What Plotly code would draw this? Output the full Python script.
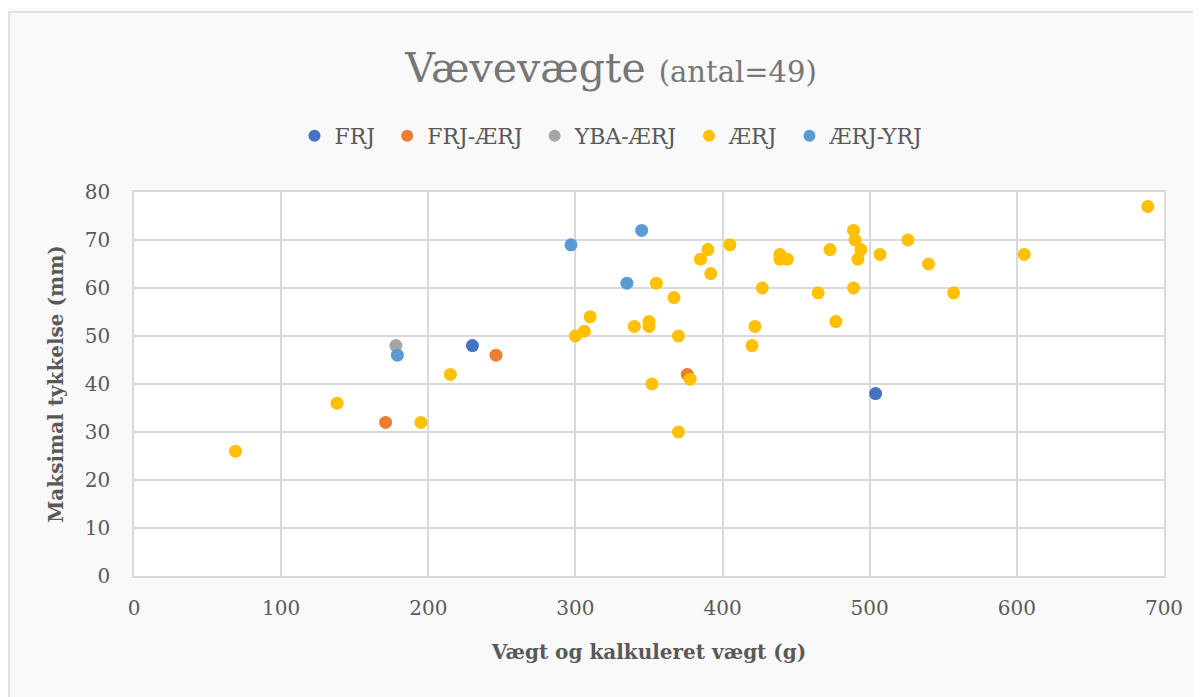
import plotly.graph_objects as go

# ---- data ----
series_names = ["FRJ", "FRJ-ÆRJ", "YBA-ÆRJ", "ÆRJ", "ÆRJ-YRJ"]
series_colors = ["#4472C4", "#ED7D31", "#A5A5A5", "#FFC000", "#5B9BD5"]

frj_x = [230, 504]
frj_y = [48, 38]

frj_aerj_x = [171, 246, 376]
frj_aerj_y = [32, 46, 42]

yba_aerj_x = [178]
yba_aerj_y = [48]

aerj_x = [69, 138, 195, 215, 300, 306, 310, 340, 350, 350, 352, 355, 367, 370, 370,
          378, 385, 390, 392, 405, 420, 422, 427, 439, 439, 444, 465, 473, 477, 489,
          490, 494, 492, 489, 507, 526, 540, 557, 605, 689]
aerj_y = [26, 36, 32, 42, 50, 51, 54, 52, 53, 52, 40, 61, 58, 50, 30,
          41, 66, 68, 63, 69, 48, 52, 60, 67, 66, 66, 59, 68, 53, 72,
          70, 68, 66, 60, 67, 70, 65, 59, 67, 77]

aerj_yrj_x = [179, 297, 335, 345]
aerj_yrj_y = [46, 69, 61, 72]

series_x = [frj_x, frj_aerj_x, yba_aerj_x, aerj_x, aerj_yrj_x]
series_y = [frj_y, frj_aerj_y, yba_aerj_y, aerj_y, aerj_yrj_y]

x_ticks = [0, 100, 200, 300, 400, 500, 600, 700]
y_ticks = [0, 10, 20, 30, 40, 50, 60, 70, 80]

title_main = "Vævevægte"
title_sub = "(antal=49)"
x_title = "Vægt og kalkuleret vægt (g)"
y_title = "Maksimal tykkelse (mm)"

FONT = "DejaVu Serif"
TXT = "#595959"
GRID = "#D9D9D9"
NB = "\u00a0"

fig = go.Figure()
for name, col, xs, ys in zip(series_names, series_colors, series_x, series_y):
    fig.add_trace(go.Scatter(
        x=xs, y=ys, mode="markers", name=name + NB,
        marker=dict(color=col, size=13, line=dict(width=0)),
    ))

# page has an 8px body margin; figure is placed at (8, 8)
OFF = 8
W, H = 1201 - OFF, 697 - OFF
L, T = 134 - OFF, 192 - OFF
R = W - (1164 - OFF)
B = H - (576 - OFF)
pw, ph = W - L - R, H - T - B


def px2paper(px, py):
    return (px - OFF - L) / pw, (H - B - (py - OFF)) / ph


x0, y1 = px2paper(9, 12)
x1, y0 = px2paper(1215, 712)

fig.update_layout(
    width=W, height=H,
    margin=dict(l=L, r=R, t=T, b=B),
    paper_bgcolor="#F9F9F9",
    plot_bgcolor="#FFFFFF",
    font=dict(family=FONT, color=TXT, size=20),
    title=dict(
        text=f"{title_main} <span style='font-size:29px'>{title_sub}</span>",
        x=(611 - OFF) / W, xanchor="center", xref="container",
        y=1 - (68 - OFF) / H, yanchor="middle", yref="container",
        font=dict(family=FONT, size=41, color="#767676"),
    ),
    legend=dict(
        orientation="h", x=(615 - OFF) / W, xanchor="center", xref="container",
        y=1 - (136 - OFF) / H, yanchor="middle", yref="container",
        font=dict(family=FONT, size=22, color=TXT),
        bgcolor="rgba(0,0,0,0)", itemsizing="constant",
        itemwidth=30, tracegroupgap=0,
    ),
    xaxis=dict(
        range=[0, 700], tickvals=x_ticks, showgrid=True, gridcolor=GRID, gridwidth=1.5,
        zeroline=False, showline=True, linecolor=GRID, linewidth=1.5, mirror=True,
        ticks="", ticklabelstandoff=13,
        tickfont=dict(family=FONT, size=20, color=TXT),
        title=dict(text=f"<b>{x_title}</b>", font=dict(family=FONT, size=20, color=TXT), standoff=26),
        fixedrange=True,
    ),
    yaxis=dict(
        range=[0, 80], tickvals=y_ticks, showgrid=True, gridcolor=GRID, gridwidth=1.5,
        zeroline=False, showline=True, linecolor=GRID, linewidth=1.5, mirror=True,
        ticks="", ticklabelstandoff=18,
        tickfont=dict(family=FONT, size=20, color=TXT),
        title=dict(text=f"<b>{y_title}</b>", font=dict(family=FONT, size=20, color=TXT), standoff=16),
        fixedrange=True,
    ),
    showlegend=True,
)

fig.add_shape(type="rect", xref="paper", yref="paper", x0=x0, x1=x1, y0=y0, y1=y1,
              line=dict(color="#D9D9D9", width=1.5), fillcolor="rgba(0,0,0,0)", layer="below")

fig.write_html("out.html")
